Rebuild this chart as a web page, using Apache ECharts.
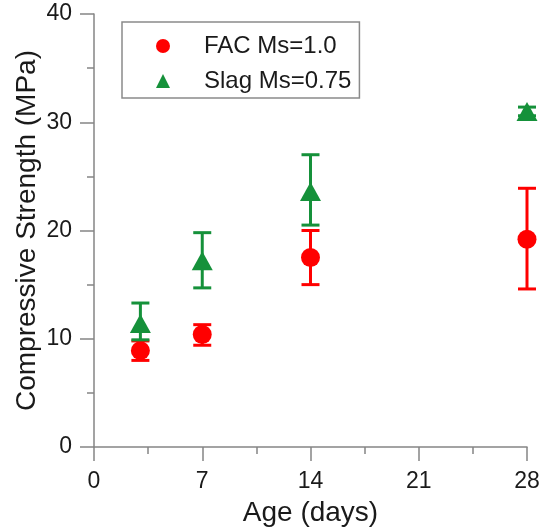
<!DOCTYPE html>
<html>
<head>
<meta charset="utf-8">
<script src="https://cdn.jsdelivr.net/npm/echarts@6/dist/echarts.min.js"></script>
<style>
html,body{margin:0;padding:0;background:#fff;}
#chart{width:540px;height:531px;}
</style>
</head>
<body>
<div id="chart"></div>
<script>
// ---- data ----
const ages = [3, 7, 14, 28];
const facName = 'FAC Ms=1.0';
const facMean = [8.9, 10.4, 17.5, 19.2];
const facLow  = [8.0, 9.4, 15.0, 14.6];
const facHigh = [9.8, 11.3, 20.0, 23.9];
const slagName = 'Slag Ms=0.75';
const slagMean = [11.4, 17.2, 23.6, 31.0];
const slagLow  = [9.9, 14.7, 20.5, 30.6];
const slagHigh = [13.3, 19.8, 27.0, 31.4];
const xTicks = [0, 7, 14, 21, 28];
const yTicks = [0, 10, 20, 30, 40];

const RED = '#ff0000';
const GREEN = '#15913a';
const FONT = '"Liberation Sans", Arial, sans-serif';
const TXT = '#1a1a1a';
const AXC = '#858585';

function errData(xs, lo, hi){ return xs.map((x,i)=>[x, lo[i], hi[i]]); }
function errRender(color){
  return function(params, api){
    const x = api.value(0);
    const lo = api.coord([x, api.value(1)]);
    const hi = api.coord([x, api.value(2)]);
    const hw = 9;
    const st = {stroke: color, lineWidth: 3};
    return {type:'group', children:[
      {type:'line', shape:{x1:lo[0], y1:lo[1], x2:hi[0], y2:hi[1]}, style:st},
      {type:'line', shape:{x1:lo[0]-hw, y1:lo[1], x2:lo[0]+hw, y2:lo[1]}, style:st},
      {type:'line', shape:{x1:hi[0]-hw, y1:hi[1], x2:hi[0]+hw, y2:hi[1]}, style:st}
    ]};
  };
}

const chart = echarts.init(document.getElementById('chart'), null, {renderer:'canvas'});
chart.setOption({
  animation: false,
  backgroundColor: '#fff',
  textStyle: {fontFamily: FONT},
  grid: {left: 94, right: 13, top: 14, bottom: 84, containLabel: false, outerBoundsMode: 'none'},
  legend: {
    orient: 'vertical',
    left: 122, top: 22,
    padding: [12, 8, 5, 34],
    itemGap: 11,
    itemWidth: 14, itemHeight: 14,
    borderColor: '#8a8a8a', borderWidth: 1.5,
    textStyle: {fontFamily: FONT, fontSize: 24, color: TXT, padding: [0,0,0,29], lineHeight: 22},
    data: [
      {name: facName, icon: 'circle'},
      {name: slagName, icon: 'triangle'}
    ]
  },
  xAxis: {
    type: 'value', min: xTicks[0], max: xTicks[xTicks.length-1], interval: 7,
    name: 'Age (days)', nameLocation: 'middle', nameGap: 52, nameMoveOverlap: false,
    nameTextStyle: {fontFamily: FONT, fontSize: 28, color: TXT},
    axisLine: {show: true, onZero: false, lineStyle: {color: AXC, width: 1.5}},
    axisTick: {show: true, inside: false, length: 14, lineStyle: {color: AXC, width: 1.5}},
    minorTick: {show: true, splitNumber: 2, length: 7, lineStyle: {color: AXC, width: 1.5}},
    axisLabel: {fontFamily: FONT, fontSize: 23, color: TXT, margin: 23},
    splitLine: {show: false}
  },
  yAxis: {
    type: 'value', min: yTicks[0], max: yTicks[yTicks.length-1], interval: 10,
    name: 'Compressive Strength (MPa)', nameLocation: 'middle', nameGap: 53, nameMoveOverlap: false,
    nameTextStyle: {fontFamily: FONT, fontSize: 28, color: TXT},
    axisLine: {show: true, onZero: false, lineStyle: {color: AXC, width: 1.5}},
    axisTick: {show: true, inside: false, length: 14, lineStyle: {color: AXC, width: 1.5}},
    minorTick: {show: true, splitNumber: 2, length: 7, lineStyle: {color: AXC, width: 1.5}},
    axisLabel: {fontFamily: FONT, fontSize: 23, color: TXT, margin: 22},
    splitLine: {show: false}
  },
  series: [
    {type: 'custom', name: facName + ' err', renderItem: errRender(RED), data: errData(ages, facLow, facHigh), z: 2, silent: true},
    {type: 'scatter', name: facName, symbol: 'circle', symbolSize: 19, itemStyle: {color: RED, opacity: 1},
     data: ages.map((x,i)=>[x, facMean[i]]), z: 3},
    {type: 'custom', name: slagName + ' err', renderItem: errRender(GREEN), data: errData(ages, slagLow, slagHigh), z: 4, silent: true},
    {type: 'scatter', name: slagName, symbol: 'triangle', symbolSize: [21, 19], itemStyle: {color: GREEN, opacity: 1},
     data: ages.map((x,i)=>[x, slagMean[i]]), z: 5}
  ]
});
</script>
</body>
</html>
